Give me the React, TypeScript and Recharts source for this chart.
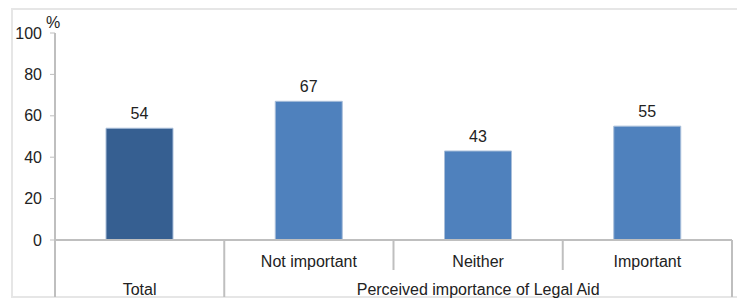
import React from 'react';
import { BarChart, Bar, XAxis, YAxis, Cell, LabelList } from 'recharts';

const categories = ['Total', 'Not important', 'Neither', 'Important'];
const values = [54, 67, 43, 55];
const groupLabel = 'Perceived importance of Legal Aid';
const yTicks = [0, 20, 40, 60, 80, 100];
const barColors = ['#365F91', '#4F81BD', '#4F81BD', '#4F81BD'];

const data = categories.map((c, i) => ({ name: c, value: values[i] }));

const FONT = '"Liberation Sans", Arial, sans-serif';
const GRID = '#BFBFBF';
const FS = 16;

const CategoryTick = (props: any) => {
  const { x, y, payload, index } = props;
  const half = payload && payload.offset ? payload.offset : 84.6;
  const n = categories.length;
  const left = x - half;
  const right = x + half;
  const full = 57;
  const short = 30;
  return (
    <g>
      <line x1={left} y1={y} x2={left} y2={y + (index <= 1 ? full : short)} stroke={GRID} strokeWidth={2} />
      {index === n - 1 && (
        <line x1={right} y1={y} x2={right} y2={y + full} stroke={GRID} strokeWidth={2} />
      )}
      <text
        x={x}
        y={index === 0 ? y + 55 : y + 27}
        textAnchor="middle"
        fill="#222"
        fontSize={FS}
        fontFamily={FONT}
      >
        {payload.value}
      </text>
      {index === 2 && (
        <text x={x} y={y + 55} textAnchor="middle" fill="#222" fontSize={FS} fontFamily={FONT}>
          {groupLabel}
        </text>
      )}
    </g>
  );
};

export default function App() {
  return (
    <div style={{ position: 'absolute', left: 0, top: 0, width: 737, height: 300, background: '#fff', overflow: 'hidden' }}>
      <div
        style={{
          position: 'absolute',
          left: 11,
          top: 8,
          width: 740,
          height: 290,
          border: '2px solid #E6E6E6',
          boxSizing: 'border-box',
        }}
      />
      <div style={{ position: 'absolute', left: 0, top: 0 }}>
        <BarChart
          width={737}
          height={300}
          data={data}
          margin={{ top: 33, right: 5, bottom: 0, left: 0 }}
          barCategoryGap="30%"
        >
          <XAxis
            dataKey="name"
            height={60}
            axisLine={{ stroke: GRID, strokeWidth: 2 }}
            tickLine={false}
            tickSize={0}
            tickMargin={0}
            interval={0}
            tick={<CategoryTick />}
          />
          <YAxis
            width={55}
            domain={[0, 100]}
            ticks={yTicks}
            interval={0}
            axisLine={{ stroke: GRID, strokeWidth: 2 }}
            tickLine={{ stroke: GRID, strokeWidth: 1 }}
            tickSize={5}
            tickMargin={8}
            tick={{ fill: '#222', fontSize: FS, fontFamily: FONT }}
            label={(p: any) => {
              const vb = p.viewBox || { x: 0, y: 33, width: 55 };
              return (
                <text
                  x={vb.x + vb.width - 2}
                  y={vb.y - 5}
                  textAnchor="middle"
                  fill="#222"
                  fontSize={FS}
                  fontFamily={FONT}
                >
                  %
                </text>
              );
            }}
          />
          <Bar dataKey="value" barSize={67} isAnimationActive={false} stroke="#A9BFDA" strokeWidth={1}>
            {data.map((d, i) => (
              <Cell key={d.name} fill={barColors[i]} />
            ))}
            <LabelList
              dataKey="value"
              position="top"
              offset={9}
              fill="#222"
              fontSize={FS}
              fontFamily={FONT}
            />
          </Bar>
        </BarChart>
      </div>
    </div>
  );
}
